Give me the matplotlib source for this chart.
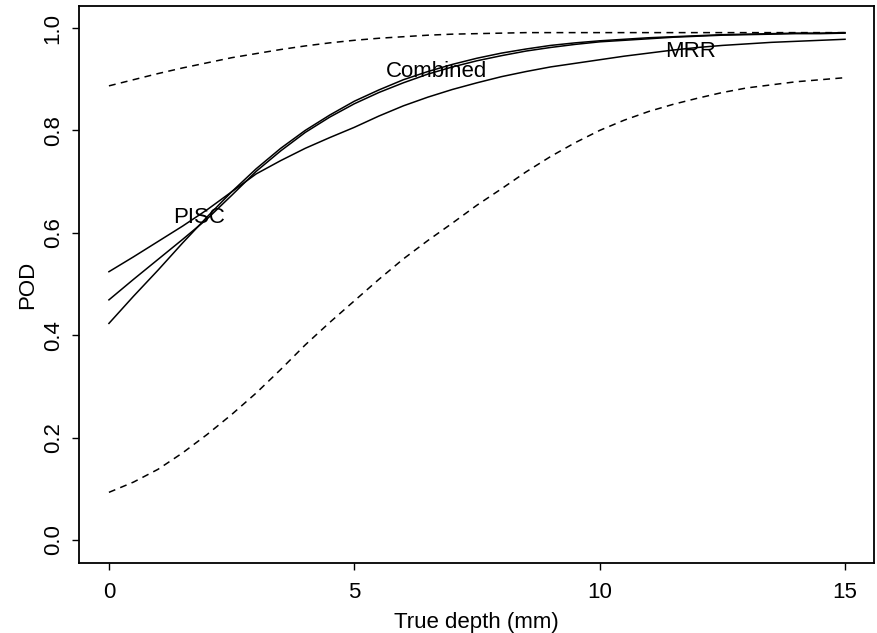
import matplotlib
matplotlib.use("Agg")
import matplotlib.pyplot as plt

plt.rcParams['font.family'] = ['Liberation Sans', 'DejaVu Sans']

# True depth (mm) grid
depth = [0, 0.5, 1, 1.5, 2, 2.5, 3, 3.5, 4, 4.5, 5, 5.5, 6, 6.5, 7, 7.5,
         8, 8.5, 9, 9.5, 10, 10.5, 11, 11.5, 12, 12.5, 13, 13.5, 14, 14.5, 15]

pod_pisc = [0.423, 0.476, 0.527, 0.580, 0.631, 0.680, 0.725, 0.765, 0.800, 0.830,
            0.857, 0.879, 0.899, 0.915, 0.929, 0.941, 0.951, 0.959, 0.966, 0.971,
            0.975, 0.978, 0.981, 0.983, 0.985, 0.987, 0.988, 0.989, 0.990, 0.990, 0.991]
pod_combined = [0.469, 0.509, 0.548, 0.587, 0.627, 0.673, 0.720, 0.760, 0.796, 0.826,
                0.852, 0.874, 0.893, 0.910, 0.924, 0.936, 0.946, 0.955, 0.962, 0.968,
                0.973, 0.976, 0.979, 0.982, 0.984, 0.986, 0.987, 0.988, 0.989, 0.989, 0.990]
pod_mrr = [0.524, 0.553, 0.583, 0.613, 0.645, 0.680, 0.715, 0.741, 0.765, 0.786,
           0.806, 0.828, 0.848, 0.865, 0.880, 0.893, 0.905, 0.915, 0.924, 0.931,
           0.938, 0.945, 0.951, 0.957, 0.962, 0.966, 0.969, 0.972, 0.974, 0.976, 0.978]
upper_band = [0.887, 0.899, 0.911, 0.922, 0.932, 0.942, 0.950, 0.958, 0.965, 0.971,
              0.976, 0.980, 0.983, 0.986, 0.988, 0.989, 0.990, 0.991, 0.991, 0.991,
              0.991, 0.991, 0.991, 0.991, 0.991, 0.991, 0.991, 0.991, 0.991, 0.991, 0.991]
lower_band = [0.093, 0.113, 0.138, 0.170, 0.206, 0.245, 0.287, 0.333, 0.381, 0.425,
              0.467, 0.509, 0.549, 0.585, 0.619, 0.654, 0.686, 0.719, 0.749, 0.776,
              0.800, 0.820, 0.837, 0.851, 0.863, 0.874, 0.883, 0.889, 0.895, 0.899, 0.903]

curve_labels = ["PISC", "Combined", "MRR"]
label_x = [1.84, 6.68, 11.86]
label_y = [0.629, 0.916, 0.955]

x_ticks = [0, 5, 10, 15]
y_ticks = [0.0, 0.2, 0.4, 0.6, 0.8, 1.0]
y_tick_labels = ["0.0", "0.2", "0.4", "0.6", "0.8", "1.0"]

fig = plt.figure(figsize=(8.77, 6.33), dpi=100)
ax = fig.add_axes([79 / 877, 1 - 563 / 633, (874 - 79) / 877, (563 - 6) / 633])

lw = 1.1
ax.plot(depth, pod_pisc, color='black', lw=lw)
ax.plot(depth, pod_combined, color='black', lw=lw)
ax.plot(depth, pod_mrr, color='black', lw=lw)
ax.plot(depth, upper_band, color='black', lw=lw, linestyle=(0, (4.5, 3.5)))
ax.plot(depth, lower_band, color='black', lw=lw, linestyle=(0, (4.5, 3.5)))

for t, x, y in zip(curve_labels, label_x, label_y):
    ax.text(x, y, t, fontsize=16, ha='center', va='center', color='black')

ax.set_xlim(-0.61, 15.59)
ax.set_ylim(-0.045, 1.043)
ax.set_xticks(x_ticks)
ax.set_xticklabels([str(v) for v in x_ticks])
ax.set_yticks(y_ticks)
ax.set_yticklabels(y_tick_labels, rotation=90, va='center')
ax.tick_params(axis='both', labelsize=16, length=5, width=1.0, direction='out', color='black')
ax.tick_params(axis='x', pad=9)
ax.tick_params(axis='y', pad=6)
for s in ax.spines.values():
    s.set_linewidth(1.3)
    s.set_color('black')

ax.set_xlabel("True depth (mm)", fontsize=16, labelpad=6)
ax.set_ylabel("POD", fontsize=16, labelpad=3)

fig.savefig("out.png", dpi=100, facecolor='white')
